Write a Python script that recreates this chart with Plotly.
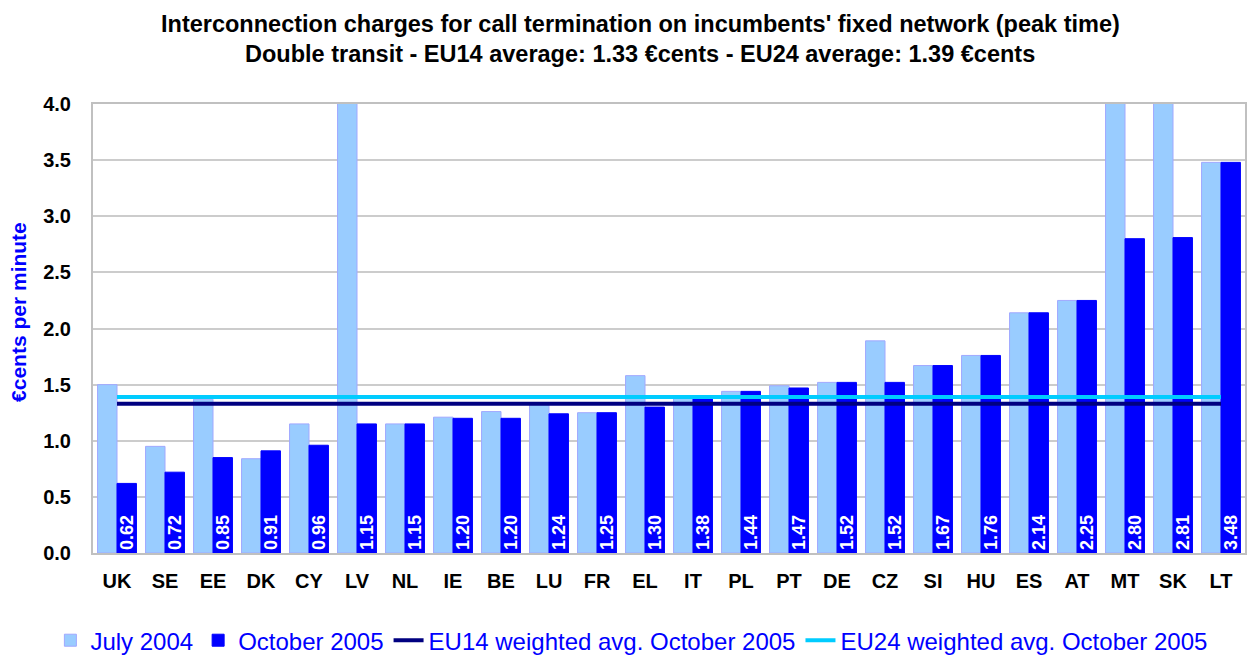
import plotly.graph_objects as go

countries = ["UK", "SE", "EE", "DK", "CY", "LV", "NL", "IE", "BE", "LU", "FR", "EL",
             "IT", "PL", "PT", "DE", "CZ", "SI", "HU", "ES", "AT", "MT", "SK", "LT"]
july_2004 = [1.50, 0.95, 1.37, 0.84, 1.15, 4.50, 1.15, 1.21, 1.26, 1.34, 1.25, 1.58,
             1.40, 1.44, 1.49, 1.52, 1.89, 1.67, 1.76, 2.14, 2.25, 4.50, 4.50, 3.48]
october_2005 = [0.62, 0.72, 0.85, 0.91, 0.96, 1.15, 1.15, 1.20, 1.20, 1.24, 1.25, 1.30,
                1.38, 1.44, 1.47, 1.52, 1.52, 1.67, 1.76, 2.14, 2.25, 2.80, 2.81, 3.48]
eu14_avg = 1.33
eu24_avg = 1.39
y_ticks = [0.0, 0.5, 1.0, 1.5, 2.0, 2.5, 3.0, 3.5, 4.0]
title_lines = [
    "Interconnection charges for call termination on incumbents' fixed network (peak time)",
    "Double transit - EU14 average: 1.33 €cents - EU24 average: 1.39 €cents",
]
y_title = "€cents per minute"

FONT = "Liberation Sans, Arial, sans-serif"

fig = go.Figure()
fig.add_trace(go.Bar(
    x=countries, y=july_2004, name="July 2004",
    marker=dict(color="#99CCFF", line=dict(color="#A0A8FF", width=1)),
))
fig.add_trace(go.Bar(
    x=countries, y=october_2005, name="October 2005",
    marker=dict(color="#0000FF", line=dict(color="#0000FF", width=1)),
    text=[f"{v:.2f}" for v in october_2005],
    textposition="inside", insidetextanchor="start", textangle=-90,
    constraintext="none",
    textfont=dict(family=FONT, size=18, color="white", weight="bold"),
))
fig.add_trace(go.Scatter(
    x=countries, y=[eu14_avg] * len(countries), mode="lines",
    name="EU14 weighted avg. October 2005",
    line=dict(color="#000080", width=4),
))
fig.add_trace(go.Scatter(
    x=countries, y=[eu24_avg] * len(countries), mode="lines",
    name="EU24 weighted avg. October 2005",
    line=dict(color="#00CCFF", width=4),
))

fig.update_layout(
    width=1249, height=647,
    paper_bgcolor="white", plot_bgcolor="white",
    margin=dict(l=85, r=12, t=96, b=102, autoexpand=False),
    barmode="group", bargap=0.19, bargroupgap=0,
    font=dict(family=FONT, color="black"),
    showlegend=True,
    legend=dict(
        orientation="h", x=-0.037, xanchor="left", y=-0.145, yanchor="top",
        font=dict(family=FONT, size=24, color="#0000FF"),
        bgcolor="rgba(0,0,0,0)", itemwidth=30,
    ),
)
for txt, yp in zip(title_lines, [1.178, 1.111]):
    fig.add_annotation(
        text=txt, xref="paper", yref="paper", x=0.475, y=yp,
        xanchor="center", yanchor="middle", showarrow=False,
        font=dict(family=FONT, size=23.5, color="black", weight="bold"),
    )
fig.add_annotation(
    text=y_title, xref="paper", yref="paper", x=-0.0642, y=0.537,
    xanchor="center", yanchor="middle", showarrow=False, textangle=-90,
    font=dict(family=FONT, size=21, color="#0000FF", weight="bold"),
)
fig.update_xaxes(
    type="category", automargin=False,
    showline=True, linecolor="#C0C0C0", linewidth=2, mirror=True,
    showgrid=False, ticks="",
    tickfont=dict(family=FONT, size=20, color="black", weight="bold"),
    ticklabelstandoff=9,
)
fig.update_yaxes(
    range=[0, 4.0], tickvals=y_ticks, ticktext=[f"{v:.1f}" for v in y_ticks],
    automargin=False,
    showline=True, linecolor="#C0C0C0", linewidth=2, mirror=True,
    showgrid=True, gridcolor="#CCCCCC", gridwidth=1.5,
    zeroline=False, ticks="",
    tickfont=dict(family=FONT, size=20, color="black", weight="bold"),
    ticklabelstandoff=16,
)

fig.write_html("out.html")
